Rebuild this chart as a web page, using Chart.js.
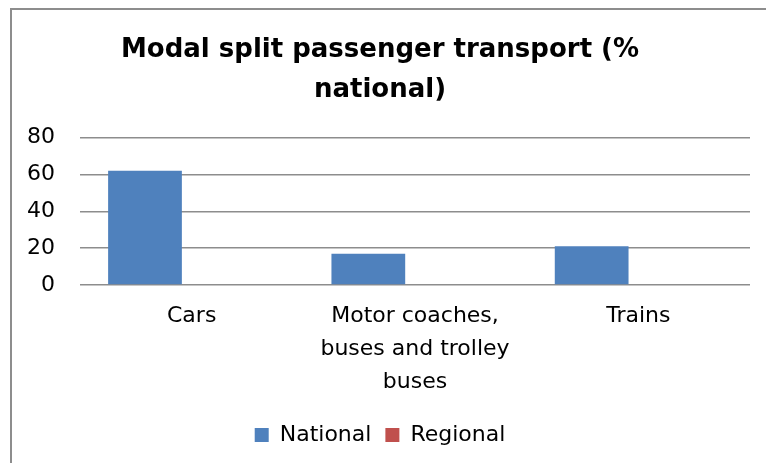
<!DOCTYPE html>
<html>
<head>
<meta charset="utf-8">
<script src="https://cdn.jsdelivr.net/npm/chart.js@4/dist/chart.umd.min.js"></script>
<style>
  html, body { margin: 0; padding: 0; background: #fff; overflow: hidden; }
  #frame { position: absolute; left: 10px; top: 8px; width: 800px; height: 520px; border: 2px solid #8d8d8d; }
  #wrap { position: absolute; left: 0; top: 0; width: 766px; height: 463px; }
</style>
</head>
<body>
<div id="frame"></div>
<div id="wrap"><canvas id="chart" width="766" height="463"></canvas></div>
<script>
// categories and series
const categories = ['Cars', ['Motor coaches,', 'buses and trolley', 'buses'], 'Trains'];
const national = [62, 17, 21];
const regional = [null, null, null];
const yTicks = [0, 20, 40, 60, 80];

const font = 'DejaVu Sans';

const data = {
    labels: categories,
    datasets: [
        { label: 'National', data: national, backgroundColor: '#4f81bd' },
        { label: 'Regional', data: regional, backgroundColor: '#c0504d' },
    ],
};

const config = {
    type: 'bar',
    data: data,
    options: {
        responsive: false,
        animation: false,
        layout: { padding: { left: 10, right: 16, top: 10, bottom: 7 } },
        datasets: {
            bar: { categoryPercentage: 0.836, barPercentage: 0.79, borderWidth: 0 }
        },
        scales: {
            x: {
                grid: { display: false, drawTicks: false },
                border: { display: false },
                ticks: {
                    color: '#000',
                    padding: 15,
                    maxRotation: 0,
                    autoSkip: false,
                    font: { family: font, size: 22, lineHeight: 1.5 }
                },
                afterFit: (scale) => { scale.height = 125; }
            },
            y: {
                min: 0,
                max: 80,
                afterBuildTicks: (scale) => { scale.ticks = yTicks.map(v => ({ value: v })); },
                grid: { color: '#8d8d8d', lineWidth: 1.5, drawTicks: false },
                border: { display: false },
                ticks: {
                    color: '#000',
                    padding: 25,
                    font: { family: font, size: 22 }
                },
                afterFit: (scale) => { scale.width = 70; }
            }
        },
        plugins: {
            legend: {
                position: 'bottom',
                align: 'center',
                labels: {
                    color: '#000',
                    boxWidth: 14,
                    boxHeight: 14,
                    padding: 14,
                    font: { family: font, size: 22 }
                }
            },
            title: {
                display: true,
                text: ['Modal split passenger transport (%', 'national)'],
                color: '#000',
                padding: { top: 20, bottom: 27 },
                font: { family: font, size: 26, weight: 'bold', lineHeight: 1.55 }
            },
            tooltip: { enabled: false }
        }
    }
};

new Chart(document.getElementById('chart'), config);
</script>
</body>
</html>
